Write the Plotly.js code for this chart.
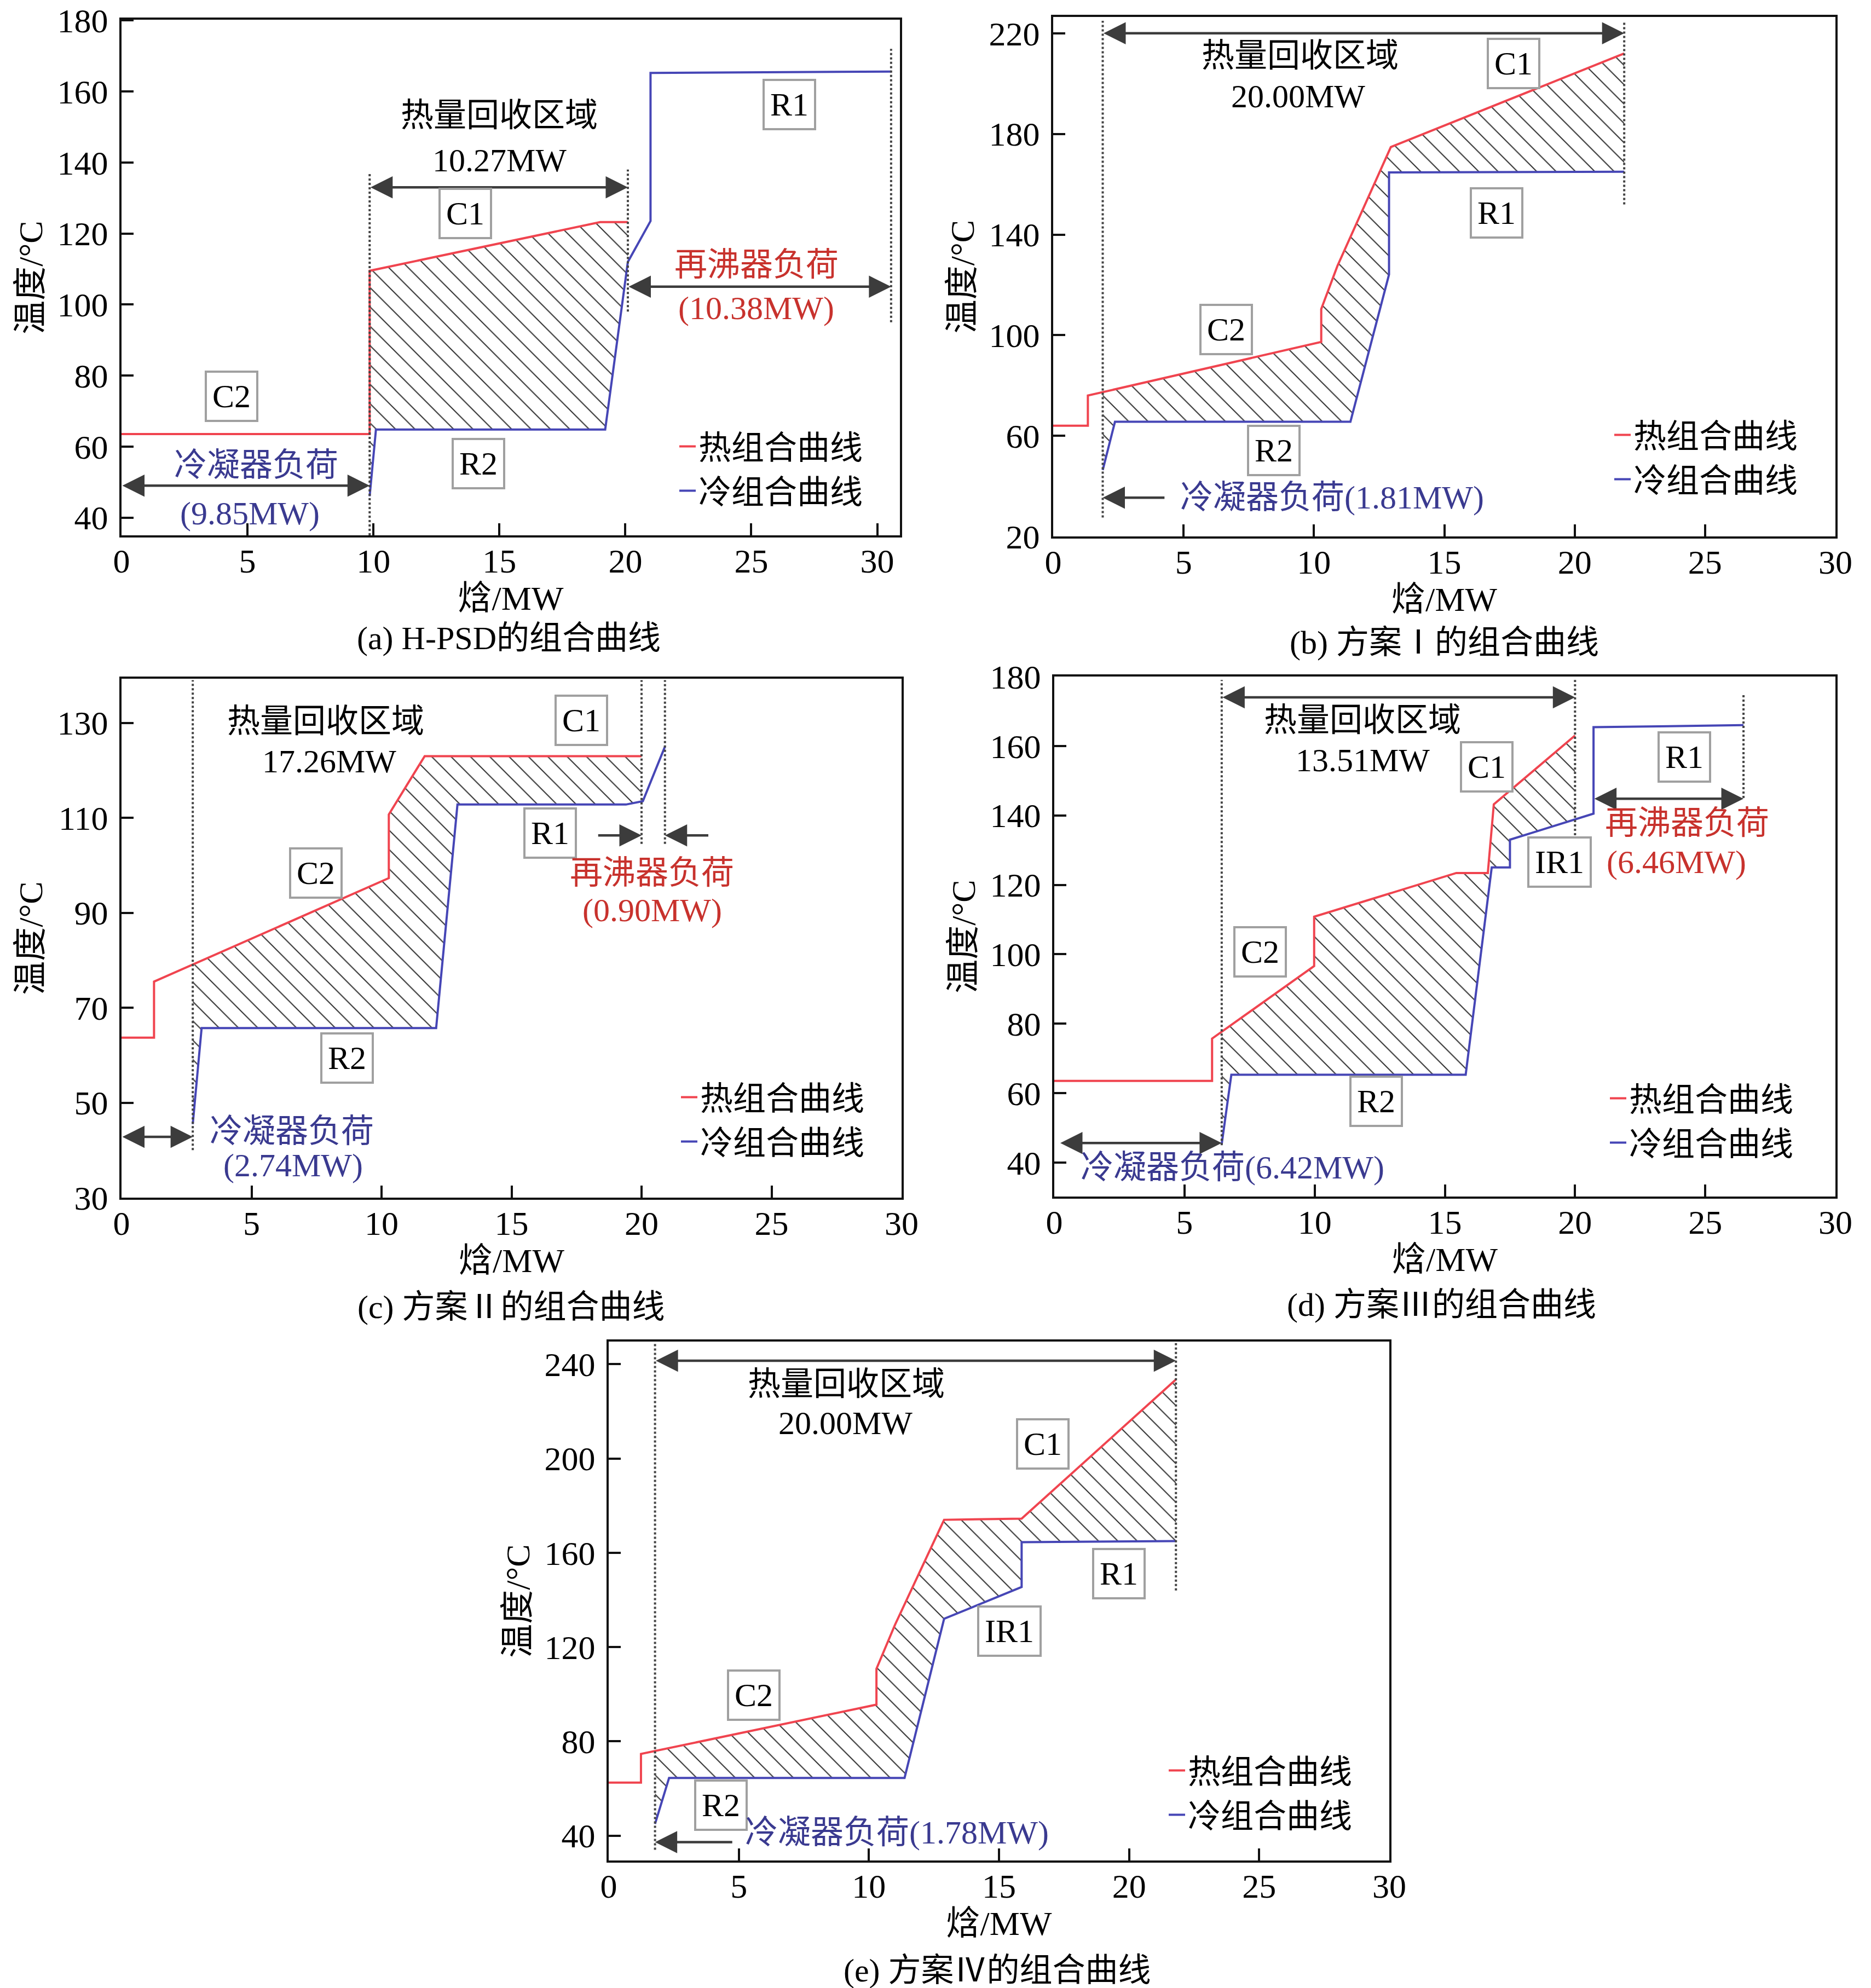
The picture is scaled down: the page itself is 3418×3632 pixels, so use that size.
<!DOCTYPE html>
<html><head><meta charset="utf-8">
<script src="https://cdn.plot.ly/plotly-3.0.1.min.js"></script>
<style>html,body{margin:0;padding:0;background:#fff}</style>
</head><body><div id="chart" style="width:3418px;height:3632px"></div>
<script>
// ---------------- DATA ----------------
// (a) H-PSD
const a_hotH  = [0, 9.85, 9.85, 19.0, 20.1];
const a_hotT  = [63.5, 63.5, 109.5, 123.2, 123.2];
const a_coldH = [9.85, 10.1, 19.2, 20.1, 21.0, 21.0, 30.55];
const a_coldT = [46, 64.8, 64.8, 112, 123.5, 165.2, 165.6];
const a_recovery = [9.85, 20.1];          // 10.27 MW
const a_reboiler = [20.1, 30.55];         // 10.38 MW
const a_condenser = [0, 9.85];            // 9.85 MW
// (b) Scheme I
const b_hotH  = [0, 1.33, 1.33, 10.28, 10.28, 10.9, 12.95, 21.9];
const b_hotT  = [64, 64, 76, 97.3, 110.4, 127.5, 174.8, 212];
const b_coldH = [1.9, 2.37, 11.4, 12.88, 12.88, 21.9];
const b_coldT = [46.4, 65.6, 65.6, 124.1, 164.7, 165];
const b_recovery = [1.9, 21.9];           // 20.00 MW
const b_condenser = [4.3, 1.9];           // 1.81 MW
// (c) Scheme II
const c_hotH  = [0, 1.25, 1.25, 10.28, 10.28, 11.66, 20.0];
const c_hotT  = [63.7, 63.7, 75.5, 97.3, 110.7, 123, 123];
const c_coldH = [2.74, 3.08, 12.1, 12.92, 19.4, 20.05, 20.9];
const c_coldT = [45.5, 65.7, 65.7, 112.8, 112.8, 113.5, 125];
const c_recovery = [2.74, 20.0];          // 17.26 MW
const c_reboiler = [20.0, 20.9];          // 0.90 MW
const c_condenser = [0, 2.74];            // 2.74 MW
// (d) Scheme III
const d_hotH  = [0, 6.06, 6.06, 9.98, 9.98, 15.44, 16.65, 16.88, 20.0];
const d_hotT  = [63.5, 63.5, 75.7, 96.6, 110.8, 123.4, 123.4, 143.2, 163];
const d_coldH = [6.43, 6.8, 15.8, 16.8, 17.5, 17.5, 20.71, 20.71, 26.47];
const d_coldT = [45.3, 65.3, 65.3, 125, 125, 133, 140.5, 165.4, 166];
const d_recovery = [6.43, 20.0];          // 13.51 MW
const d_reboiler = [20.71, 26.47];        // 6.46 MW
const d_condenser = [0.2, 6.43];          // 6.42 MW
// (e) Scheme IV
const e_hotH  = [0, 1.24, 1.24, 10.29, 10.29, 11.0, 12.89, 15.87, 21.8];
const e_hotT  = [62.5, 62.5, 74.7, 95.6, 110.8, 129.4, 174, 174.5, 233.5];
const e_coldH = [1.78, 2.32, 11.37, 12.89, 15.87, 15.87, 21.8];
const e_coldT = [45, 64.5, 64.5, 132, 145.5, 164.5, 165];
const e_recovery = [1.78, 21.8];          // 20.00 MW
const e_condenser = [4.78, 1.78];         // 1.78 MW

const xTicks = [0, 5, 10, 15, 20, 25, 30];
const a_yTicks = [40, 60, 80, 100, 120, 140, 160, 180];
const b_yTicks = [20, 60, 100, 140, 180, 220];
const c_yTicks = [30, 50, 70, 90, 110, 130];
const d_yTicks = [40, 60, 80, 100, 120, 140, 160, 180];
const e_yTicks = [40, 80, 120, 160, 200, 240];

const captions = ['(a) H-PSD的组合曲线', '(b) 方案Ⅰ的组合曲线', '(c) 方案Ⅱ的组合曲线', '(d) 方案Ⅲ的组合曲线', '(e) 方案Ⅳ的组合曲线'];
const hotName = '热组合曲线', coldName = '冷组合曲线';

// ---------------- STYLE ----------------
const W = 3418, H = 3632;
const FONT = '"Liberation Serif", "Times New Roman", "Noto Sans CJK SC", serif';
const RED = '#f0444f', BLUE = '#4646b6', RED_TXT = '#c8322d', BLUE_TXT = '#3a3a90';
const px = v => v / W, py = v => 1 - v / H;

function clip(xs, ys, x0, x1) {
  const ox = [], oy = [];
  for (let i = 0; i < xs.length; i++) {
    if (i > 0) {
      const ax = xs[i-1], ay = ys[i-1], bx = xs[i], by = ys[i];
      [x0, x1].forEach(c => {
        if (ax < c && bx > c) { ox.push(c); oy.push(ay + (by - ay) * (c - ax) / (bx - ax)); }
      });
    }
    if (xs[i] >= x0 - 1e-9 && xs[i] <= x1 + 1e-9) { ox.push(xs[i]); oy.push(ys[i]); }
  }
  return [ox, oy];
}

const panels = [
  {hx:a_hotH, hy:a_hotT, cx:a_coldH, cy:a_coldT, reg:a_recovery, xr:[0,30.9], yr:[35,180.2], yt:a_yTicks,
   dom:{x:[222,1644], y:[36,978]}, leg:[1236, 770], cap:[929,1166]},
  {hx:b_hotH, hy:b_hotT, cx:b_coldH, cy:b_coldT, reg:b_recovery, xr:[0,30], yr:[20,226.5], yt:b_yTicks,
   dom:{x:[1924,3353], y:[31,980]}, leg:[2944, 749], cap:[2638,1174]},
  {hx:c_hotH, hy:c_hotT, cx:c_coldH, cy:c_coldT, reg:c_recovery, xr:[0,30], yr:[30,139.3], yt:c_yTicks,
   dom:{x:[222,1647], y:[1240,2188]}, leg:[1239, 1959], cap:[934,2388]},
  {hx:d_hotH, hy:d_hotT, cx:d_coldH, cy:d_coldT, reg:d_recovery, xr:[0,30], yr:[30.2,180], yt:d_yTicks,
   dom:{x:[1926,3353], y:[1236,2186]}, leg:[2936, 1961], cap:[2633,2384]},
  {hx:e_hotH, hy:e_hotT, cx:e_coldH, cy:e_coldT, reg:e_recovery, xr:[0,30], yr:[29.5,249.6], yt:e_yTicks,
   dom:{x:[1112,2538], y:[2451,3399]}, leg:[2130, 3189], cap:[1822,3600]}
];

const data = [], layout = {
  width: W, height: H, margin: {l:0, r:0, t:0, b:0}, paper_bgcolor:'#fff', plot_bgcolor:'#fff',
  font: {family: FONT, size: 60, color: '#000'}, annotations: [], shapes: []
};

panels.forEach((p, k) => {
  const n = k + 1, sx = n === 1 ? '' : String(n);
  const xa = 'x' + sx, ya = 'y' + sx, lg = 'legend' + sx;
  const [hx, hy] = clip(p.hx, p.hy, p.reg[0], p.reg[1]);
  const [cx, cy] = clip(p.cx, p.cy, p.reg[0], p.reg[1]);
  data.push({type:'scatter', mode:'lines', x: hx.concat(cx.slice().reverse()), y: hy.concat(cy.slice().reverse()),
    xaxis:xa, yaxis:ya, fill:'toself', fillcolor:'rgba(255,255,255,0)', line:{width:0},
    fillpattern:{shape:'\\', fgcolor:'#333', bgcolor:'rgba(255,255,255,0)', size:25, solidity:0.085},
    showlegend:false, hoverinfo:'skip'});
  data.push({type:'scatter', mode:'lines', name: hotName, x:p.hx, y:p.hy, xaxis:xa, yaxis:ya,
    line:{color:RED, width:4}, legend: lg});
  data.push({type:'scatter', mode:'lines', name: coldName, x:p.cx, y:p.cy, xaxis:xa, yaxis:ya,
    line:{color:BLUE, width:4}, legend: lg});
  const axCommon = {showline:true, mirror:true, linewidth:4, linecolor:'#111', ticks:'inside', ticklen:22,
    tickwidth:4, tickcolor:'#111', showgrid:false, zeroline:false, ticklabeloverflow:'allow',
    tickfont:{family:FONT, size:62, color:'#000'}};
  layout['xaxis' + sx] = Object.assign({}, axCommon, {domain:[px(p.dom.x[0]), px(p.dom.x[1])], anchor: ya,
    range:p.xr, tickvals:xTicks, ticklabelstandoff: -10,
    title:{text:'焓/MW', font:{family:FONT, size:62}, standoff: 12}});
  layout['yaxis' + sx] = Object.assign({}, axCommon, {domain:[py(p.dom.y[1]), py(p.dom.y[0])], anchor: xa,
    range:p.yr, tickvals:p.yt, ticklabelstandoff: 8,
    title:{text:'温度/°C', font:{family:FONT, size:62}, standoff: 8}});
  layout[lg] = {x: px(p.leg[0]), y: py(p.leg[1]), xanchor:'left', yanchor:'top', bgcolor:'rgba(0,0,0,0)',
    font:{family:FONT, size:60, color:'#000'}, tracegroupgap:0};
  layout.annotations.push({xref:'paper', yref:'paper', x:px(p.cap[0]), y:py(p.cap[1]), xanchor:'center', yanchor:'middle',
    text:captions[k], showarrow:false, font:{family:FONT, size:60, color:'#000'}});
  p.xa = xa; p.ya = ya;
});

function txt(k, x, y, text, color, box) {
  const p = panels[k];
  const a = {xref:p.xa, yref:p.ya, x, y, xanchor:'center', yanchor:'middle', text, showarrow:false,
    font:{family:FONT, size:60, color: color || '#000'}};
  if (box) Object.assign(a, {bordercolor:'#a0a0a0', borderwidth:4, borderpad:10, bgcolor:'#fff', font:{family:FONT, size:60, color:'#000'}});
  layout.annotations.push(a);
}
function arrow(k, x0, x1, y, both) {
  const p = panels[k];
  layout.annotations.push({xref:p.xa, yref:p.ya, axref:p.xa, ayref:p.ya, x:x1, y, ax:x0, ay:y, text:'',
    showarrow:true, arrowhead:2, arrowside: both ? 'end+start' : 'end', startarrowhead:2, arrowsize:1.8, startarrowsize:1.8,
    arrowwidth:4.5, arrowcolor:'#3c3c3c', standoff:0, startstandoff:0});
}
function vdot(k, x, y0, y1) {
  const p = panels[k];
  layout.shapes.push({type:'line', xref:p.xa, yref:p.ya, x0:x, x1:x, y0, y1, line:{color:'#444', width:4, dash:'dot'}});
}

// (a)
vdot(0, a_recovery[0], 35, 137); vdot(0, a_recovery[1], 98, 138); vdot(0, a_reboiler[1], 95, 172);
arrow(0, a_recovery[0], a_recovery[1], 133, true);
arrow(0, a_reboiler[0], a_reboiler[1], 105, true);
arrow(0, a_condenser[0], a_condenser[1], 49, true);
txt(0, 15.0, 153.3, '热量回收区域'); txt(0, 15.0, 140.6, '10.27MW');
txt(0, 13.65, 125.7, 'C1', 0, true); txt(0, 26.5, 156.3, 'R1', 0, true);
txt(0, 4.37, 74.2, 'C2', 0, true); txt(0, 14.17, 55.2, 'R2', 0, true);
txt(0, 25.2, 111.2, '再沸器负荷', RED_TXT); txt(0, 25.2, 98.9, '(10.38MW)', RED_TXT);
txt(0, 5.34, 54.8, '冷凝器负荷', BLUE_TXT); txt(0, 5.1, 41.2, '(9.85MW)', BLUE_TXT);
// (b)
vdot(1, b_recovery[0], 27.5, 225); vdot(1, b_recovery[1], 152, 225);
arrow(1, b_recovery[0], b_recovery[1], 220, true);
arrow(1, b_condenser[0], b_condenser[1], 35.4, false);
txt(1, 9.47, 211, '热量回收区域'); txt(1, 9.4, 195, '20.00MW');
txt(1, 17.65, 208, 'C1', 0, true); txt(1, 17.0, 148.5, 'R1', 0, true);
txt(1, 6.63, 102.2, 'C2', 0, true); txt(1, 8.47, 54.1, 'R2', 0, true);
txt(1, 10.7, 35.4, '冷凝器负荷(1.81MW)', BLUE_TXT);
// (c)
vdot(2, c_recovery[0], 40, 139); vdot(2, c_reboiler[0], 104.5, 139); vdot(2, c_reboiler[1], 104.5, 139);
arrow(2, c_condenser[0], c_condenser[1], 42.8, true);
arrow(2, 18.3, c_reboiler[0], 106.3, false);
arrow(2, 22.6, c_reboiler[1], 106.3, false);
txt(2, 7.86, 130.3, '热量回收区域'); txt(2, 7.98, 121.9, '17.26MW');
txt(2, 17.68, 130.5, 'C1', 0, true); txt(2, 16.48, 106.8, 'R1', 0, true);
txt(2, 7.47, 98.4, 'C2', 0, true); txt(2, 8.67, 59.4, 'R2', 0, true);
txt(2, 20.4, 98.4, '再沸器负荷', RED_TXT); txt(2, 20.4, 90.5, '(0.90MW)', RED_TXT);
txt(2, 6.55, 44, '冷凝器负荷', BLUE_TXT); txt(2, 6.6, 36.8, '(2.74MW)', BLUE_TXT);
// (d)
vdot(3, d_recovery[0], 45, 179); vdot(3, d_recovery[1], 133, 179); vdot(3, d_reboiler[1], 145, 175);
arrow(3, d_recovery[0], d_recovery[1], 174, true);
arrow(3, d_reboiler[0], d_reboiler[1], 144.8, true);
arrow(3, d_condenser[0], d_condenser[1], 45.6, true);
txt(3, 11.84, 167.4, '热量回收区域'); txt(3, 11.84, 155.9, '13.51MW');
txt(3, 16.6, 154, 'C1', 0, true); txt(3, 24.2, 156.8, 'R1', 0, true); txt(3, 19.4, 126.6, 'IR1', 0, true);
txt(3, 7.9, 100.7, 'C2', 0, true); txt(3, 12.37, 57.7, 'R2', 0, true);
txt(3, 24.3, 137.7, '再沸器负荷', RED_TXT); txt(3, 23.9, 126.6, '(6.46MW)', RED_TXT);
txt(3, 6.85, 38.5, '冷凝器负荷(6.42MW)', BLUE_TXT);
// (e)
vdot(4, e_recovery[0], 34, 249); vdot(4, e_recovery[1], 144, 249);
arrow(4, e_recovery[0], e_recovery[1], 241.5, true);
arrow(4, e_condenser[0], e_condenser[1], 37.3, false);
txt(4, 9.14, 231.6, '热量回收区域'); txt(4, 9.1, 215.1, '20.00MW');
txt(4, 16.68, 206.2, 'C1', 0, true); txt(4, 19.6, 151.1, 'R1', 0, true); txt(4, 15.4, 126.8, 'IR1', 0, true);
txt(4, 5.58, 99.6, 'C2', 0, true); txt(4, 4.32, 53, 'R2', 0, true);
txt(4, 11.07, 41.4, '冷凝器负荷(1.78MW)', BLUE_TXT);

Plotly.newPlot('chart', data, layout, {displayModeBar:false, staticPlot:true});
</script></body></html>
